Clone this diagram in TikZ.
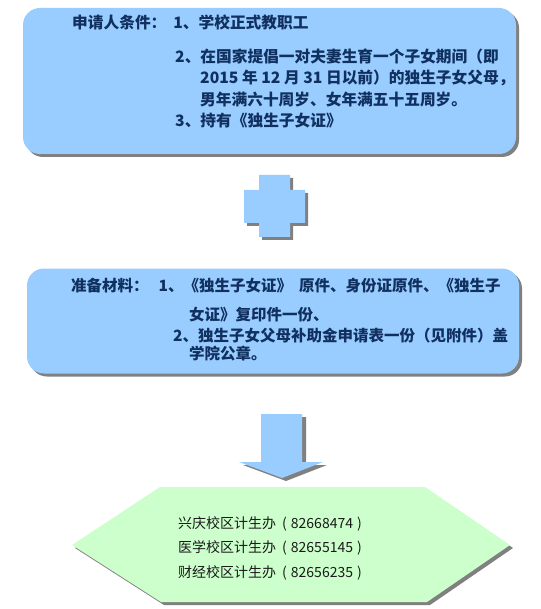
\documentclass[tikz,border=0pt]{standalone}
\usepackage{fontspec}
\newfontfamily\cjk{Noto Sans CJK SC}
\usetikzlibrary{shadows}
\definecolor{boxblue}{HTML}{99CCFF}
\definecolor{hexgreen}{HTML}{CCFFCC}
\definecolor{shade}{HTML}{808080}
\definecolor{navy}{HTML}{10305F}
\definecolor{hexink}{HTML}{1A1A1A}
\newcommand{\phonenum}[1]{\hspace{6pt}(\hspace{4pt}#1\hspace{4pt})}
\begin{document}
\begin{tikzpicture}[x=1pt,y=-1pt,
  bluebox/.style={rectangle, fill=boxblue, draw=none, rounded corners=17pt, inner sep=0pt,
    drop shadow={shadow xshift=3pt, shadow yshift=-3pt, fill=shade, opacity=1}},
  shapeshadow/.style={fill=shade, draw=none},
  bluefill/.style={fill=boxblue, draw=none},
  navytext/.style={anchor=base west, inner sep=0pt, text=navy, font=\cjk\bfseries\fontsize{15.7}{16}\selectfont},
  navytextb/.style={navytext, font=\cjk\bfseries\fontsize{15.5}{16}\selectfont},
  hextext/.style={anchor=base west, inner sep=0pt, text=hexink, font=\cjk\fontsize{14}{14}\selectfont}]
\useasboundingbox (0,0) rectangle (540,609);
\fill[white] (0,0) rectangle (540,609);

% box 1
\node[bluebox, minimum width=493pt, minimum height=146pt] (box1) at (269.5,81) {};
\node[navytext] (t1a) at (72,28.5) {申请人条件：\hspace{7pt}1、学校正式教职工};
\node[navytext] (t1b) at (175,63) {2、在国家提倡一对夫妻生育一个子女期间（即};
\node[navytext] (t1c) at (200,84) {2015 年 12 月 31 日以前）的独生子女父母，};
\node[navytext] (t1d) at (200,106) {男年满六十周岁、女年满五十五周岁。};
\node[navytext] (t1e) at (175,127) {3、持有《独生子女证》};

% cross
\fill[shapeshadow, shift={(3,3)}] (259,175) -- (290,175) -- (290,190) -- (305,190) -- (305,223) -- (290,223) -- (290,237) -- (259,237) -- (259,223) -- (244,223) -- (244,190) -- (259,190) -- cycle;
\fill[bluefill] (259,175) -- (290,175) -- (290,190) -- (305,190) -- (305,223) -- (290,223) -- (290,237) -- (259,237) -- (259,223) -- (244,223) -- (244,190) -- (259,190) -- cycle;

% box 2
\node[bluebox, minimum width=492pt, minimum height=105pt] (box2) at (273,321) {};
\node[navytextb] (t2a) at (71,291) {准备材料：\hspace{10pt}1、《独生子女证》\hspace{7pt}原件、身份证原件、《独生子};
\node[navytextb] (t2b) at (189,320) {女证》复印件一份、};
\node[navytextb] (t2c) at (173,341) {2、独生子女父母补助金申请表一份（见附件）盖};
\node[navytextb] (t2d) at (189,359) {学院公章。};

% arrow
\fill[shapeshadow, shift={(4,3)}] (261,414) -- (302,414) -- (302,462) -- (323,462) -- (282,478) -- (239,462) -- (261,462) -- cycle;
\fill[bluefill] (261,414) -- (302,414) -- (302,462) -- (323,462) -- (282,478) -- (239,462) -- (261,462) -- cycle;

% hexagon
\fill[shapeshadow, shift={(3,3)}] (72,545) -- (160,487) -- (425,487) -- (510,545) -- (427,602) -- (161,602) -- cycle;
\fill[hexgreen] (72,545) -- (160,487) -- (425,487) -- (510,545) -- (427,602) -- (161,602) -- cycle;
\node[hextext] (h1) at (178,528) {兴庆校区计生办\phonenum{82668474}};
\node[hextext] (h2) at (178,552) {医学校区计生办\phonenum{82655145}};
\node[hextext] (h3) at (178,577) {财经校区计生办\phonenum{82656235}};
\end{tikzpicture}
\end{document}
